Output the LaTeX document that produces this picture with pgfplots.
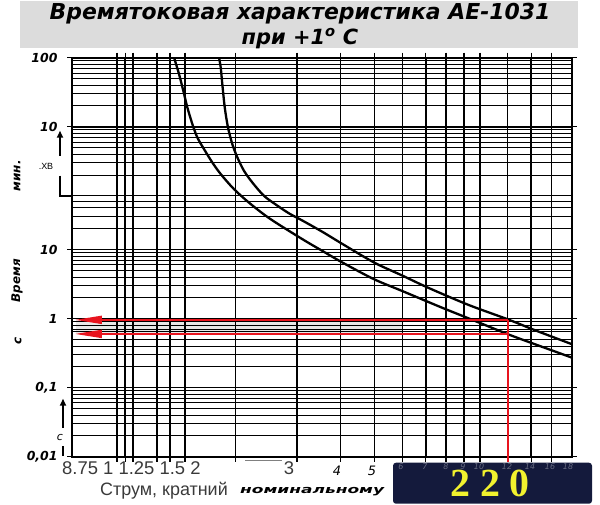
\documentclass[border=0pt]{standalone}
\usepackage{fontspec}
\setmainfont{Liberation Sans}
\newfontfamily\dv{DejaVu Sans}
\newfontfamily\lserif{Liberation Serif}
\usepackage{graphicx}
\usepackage{pgfplots}
\pgfplotsset{compat=1.18}
\usetikzlibrary{arrows.meta}
\definecolor{navy}{HTML}{141A3C}
\definecolor{yel}{HTML}{F2F22E}
\definecolor{titlegray}{HTML}{DCDCDC}
\definecolor{redl}{HTML}{E8141E}
\definecolor{txtgray}{HTML}{3A3A3A}
\begin{document}
\begin{tikzpicture}
\path (0bp,0bp) rectangle (600bp,504bp);
% title
\fill[titlegray] (20bp,457bp) rectangle (578bp,504bp);
\node[font=\dv\bfseries\itshape\fontsize{22}{22}\selectfont] at (300bp,491bp) {Времятоковая характеристика АЕ-1031};
\node[font=\dv\bfseries\itshape\fontsize{21}{21}\selectfont] at (300bp,466bp) {при +1\textsuperscript{o} С};

\begin{axis}[
  at={(72bp,48bp)}, anchor=south west,
  scale only axis, width=500bp, height=399bp,
  xmode=log, ymode=log,
  xmin=0.6826, xmax=18.32, ymin=0.01, ymax=6000,
  xtick={0.918,0.968,1.02,1.194,1.301,1.436,2,3,4,5,6,7,8,9,10,12,14,16},
  xticklabels={},
  ytick={0.01,0.1,1,10,600,6000},
  yticklabels={{0,01},{0,1},1,10,10,100},
  minor ytick={0.02,0.03,0.04,0.05,0.06,0.07,0.08,0.09,0.2,0.3,0.4,0.5,0.65,0.7,0.8,0.9,2,3,4,5,6,7,8,9,20,30,40,50,60,120,180,240,300,360,420,480,540,1200,1800,2400,3000,3600,4200,4800,5400},
  grid=both,
  major grid style={black,line width=1.5bp},
  minor grid style={black,line width=1bp},
  axis line style={black,line width=2bp},
  tick style={black,line width=1.2bp},
  major tick length=5bp, minor tick length=0bp,
  tick align=outside,
  yticklabel style={font=\dv\bfseries\itshape\fontsize{12.5}{12.5}\selectfont, xshift=-6bp},
  clip=false,
  set layers,
]
\addplot[fill=gray!18, draw=none, on layer=axis background] coordinates {(0.70,0.6) (6,0.6) (6,0.96) (0.70,0.96)};
% left (lower) curve
\addplot[black, line width=2.3bp, smooth] coordinates {
 (1.336,6000) (1.380,3484) (1.427,1787) (1.458,1143) (1.507,656) (1.557,420) (1.627,285) (1.719,182) (1.816,124) (1.982,75) (2.213,45.5) (2.523,27.5) (3.111,14.1) (3.548,9.54) (4.047,6.48) (4.98,3.72) (5.985,2.52) (7.79,1.44) (9.68,0.925) (12.02,0.594) (14.35,0.426) (18.32,0.272)};
% right (upper) curve
\addplot[black, line width=2.3bp, smooth] coordinates {
 (1.796,6000) (1.816,4341) (1.835,2495) (1.865,1143) (1.905,586) (1.960,337) (2.026,216) (2.117,138) (2.236,93.6) (2.414,60) (2.630,43.6) (2.856,33.1) (3.117,26.1) (3.55,18.0) (4.053,11.98) (4.985,6.48) (5.98,4.23) (7.135,2.78) (9.27,1.58) (12.05,0.97) (14.35,0.68) (18.32,0.426)};
% red lines
\addplot[redl, line width=1.8bp, on layer=axis foreground] coordinates {(12,0.96) (12,0.0085)};
\addplot[redl, line width=1.8bp, on layer=axis foreground, -{Triangle[length=27bp,width=8bp]}] coordinates {(12,0.96) (0.696,0.96)};
\addplot[redl, line width=1.8bp, on layer=axis foreground, -{Triangle[length=27bp,width=8bp]}] coordinates {(12,0.6) (0.696,0.6)};
\end{axis}

% left decorations
\node[rotate=90, font=\dv\bfseries\itshape\fontsize{12}{12}\selectfont] at (17bp,329bp) {мин.};
\node[rotate=90, font=\dv\bfseries\itshape\fontsize{12}{12}\selectfont] at (17bp,224bp) {Время};
\node[rotate=90, font=\dv\bfseries\itshape\fontsize{12}{12}\selectfont] at (18bp,164bp) {с};
\draw[line width=1.8bp, -{Triangle[length=7bp,width=6bp]}] (60bp,349bp) -- (60bp,374bp);
\fill[white] (35bp,329bp) rectangle (71bp,347bp);
\node[font=\fontsize{9}{9}\selectfont] at (46bp,338bp) {.ХВ};
\draw[line width=1.8bp] (60bp,329bp) -- (60bp,309bp) -- (72bp,309bp);
\draw[line width=1.8bp, -{Triangle[length=7bp,width=6bp]}] (63bp,77bp) -- (63bp,106bp);
\node[font=\dv\itshape\fontsize{11}{11}\selectfont] at (60bp,67bp) {c};
\draw[line width=1.5bp] (63bp,49bp) -- (63bp,59bp);

% bottom labels
\node[anchor=west, text=txtgray, font=\fontsize{18.5}{18.5}\selectfont, inner sep=0pt] at (62bp,37bp) {8.75 1 1.25 1.5 2};
\node[text=txtgray, font=\fontsize{18.5}{18.5}\selectfont, inner sep=0pt] at (289bp,37bp) {3};
\draw[gray, line width=0.8bp] (245bp,44bp) -- (282bp,44bp);
\node[font=\dv\itshape\fontsize{13}{13}\selectfont] at (337bp,34bp) {4};
\node[font=\dv\itshape\fontsize{13}{13}\selectfont] at (372bp,34bp) {5};
\node[anchor=west, text=txtgray, font=\fontsize{18}{18}\selectfont, inner sep=0pt] at (100bp,14bp) {Струм, кратний};
\node[anchor=west, inner sep=0pt] at (240bp,13bp) {\scalebox{1.55}[1]{\dv\bfseries\itshape\fontsize{11}{11}\selectfont номинальному}};

% navy box
\fill[navy, rounded corners=3bp] (393bp,1bp) rectangle (592bp,42bp);
\foreach \xx/\tt in {401/6,425/7,446/8,463/9,479/10,507/12,530/14,550/16,568/18}
  \node[text=navy!65!white, font=\dv\itshape\fontsize{8}{8}\selectfont, inner sep=0pt] at (\xx bp,38bp) {\tt};
\node[anchor=base, text=yel, font=\lserif\bfseries\fontsize{40}{40}\selectfont, inner sep=0pt] at (490bp,8bp) {2 2 0};
\end{tikzpicture}
\end{document}
